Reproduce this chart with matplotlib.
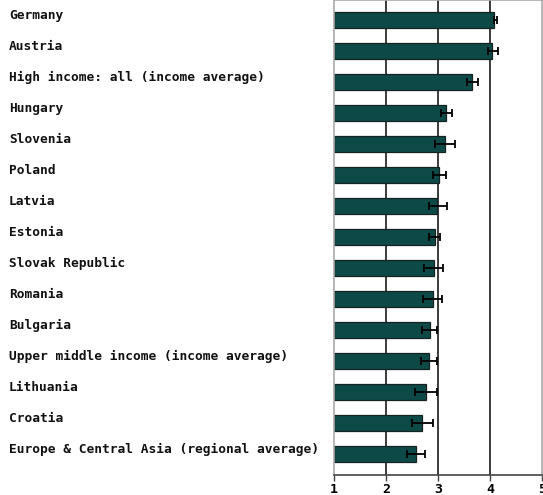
import matplotlib
matplotlib.use("Agg")
import matplotlib.pyplot as plt
import matplotlib.transforms as mtransforms

categories = ["Germany", "Austria", "High income: all (income average)", "Hungary",
              "Slovenia", "Poland", "Latvia", "Estonia", "Slovak Republic", "Romania",
              "Bulgaria", "Upper middle income (income average)", "Lithuania", "Croatia",
              "Europe & Central Asia (regional average)"]
values = [4.08, 4.04, 3.66, 3.15, 3.13, 3.02, 2.99, 2.94, 2.92, 2.90, 2.85, 2.83, 2.77, 2.70, 2.58]
err_low = [4.07, 3.95, 3.55, 3.05, 2.95, 2.91, 2.83, 2.83, 2.74, 2.72, 2.70, 2.67, 2.56, 2.51, 2.41]
err_high = [4.13, 4.15, 3.77, 3.27, 3.32, 3.15, 3.18, 3.04, 3.09, 3.07, 2.99, 2.99, 2.99, 2.90, 2.76]
xticks = [1, 2, 3, 4, 5]

fig = plt.figure(figsize=(5.43, 4.95), dpi=100)
ax = fig.add_axes([333.7/543, 1-475/495, (542.3-333.7)/543, 475/495])

ys = list(range(len(categories)))
xerr = [[v - l for v, l in zip(values, err_low)], [h - v for v, h in zip(values, err_high)]]
ax.barh(ys, [v - 1 for v in values], left=1, height=0.52, color="#0d4a47",
        edgecolor="#152222", linewidth=0.9, zorder=2)
ax.errorbar(values, ys, xerr=xerr, fmt="none", ecolor="black", elinewidth=1.3,
            capsize=3.2, capthick=1.3, zorder=3)

for g in [2, 3, 4]:
    ax.axvline(g, color="#1a1a1a", linewidth=1.2, zorder=1)

ax.set_xlim(1, 5)
ax.set_ylim(14.69, -0.635)
ax.set_yticks([])
ax.set_xticks(xticks)
ax.set_xticklabels([str(t) for t in xticks], fontfamily="DejaVu Sans Mono",
                   fontweight="bold", fontsize=9.5)
ax.tick_params(axis="x", length=4, width=1, color="#444444", pad=1.5)

for s in ["left", "top", "right"]:
    ax.spines[s].set_color("#aaaaaa")
    ax.spines[s].set_linewidth(1.2)
ax.spines["bottom"].set_color("#444444")
ax.spines["bottom"].set_linewidth(1.2)

trans = mtransforms.blended_transform_factory(fig.transFigure, ax.transData)
for i, c in enumerate(categories):
    ax.text(9/543, i - 0.14, c, transform=trans, ha="left", va="center",
            fontfamily="DejaVu Sans Mono", fontweight="bold", fontsize=9.3,
            color="#111111", clip_on=False)

fig.savefig("out.png", dpi=100)
